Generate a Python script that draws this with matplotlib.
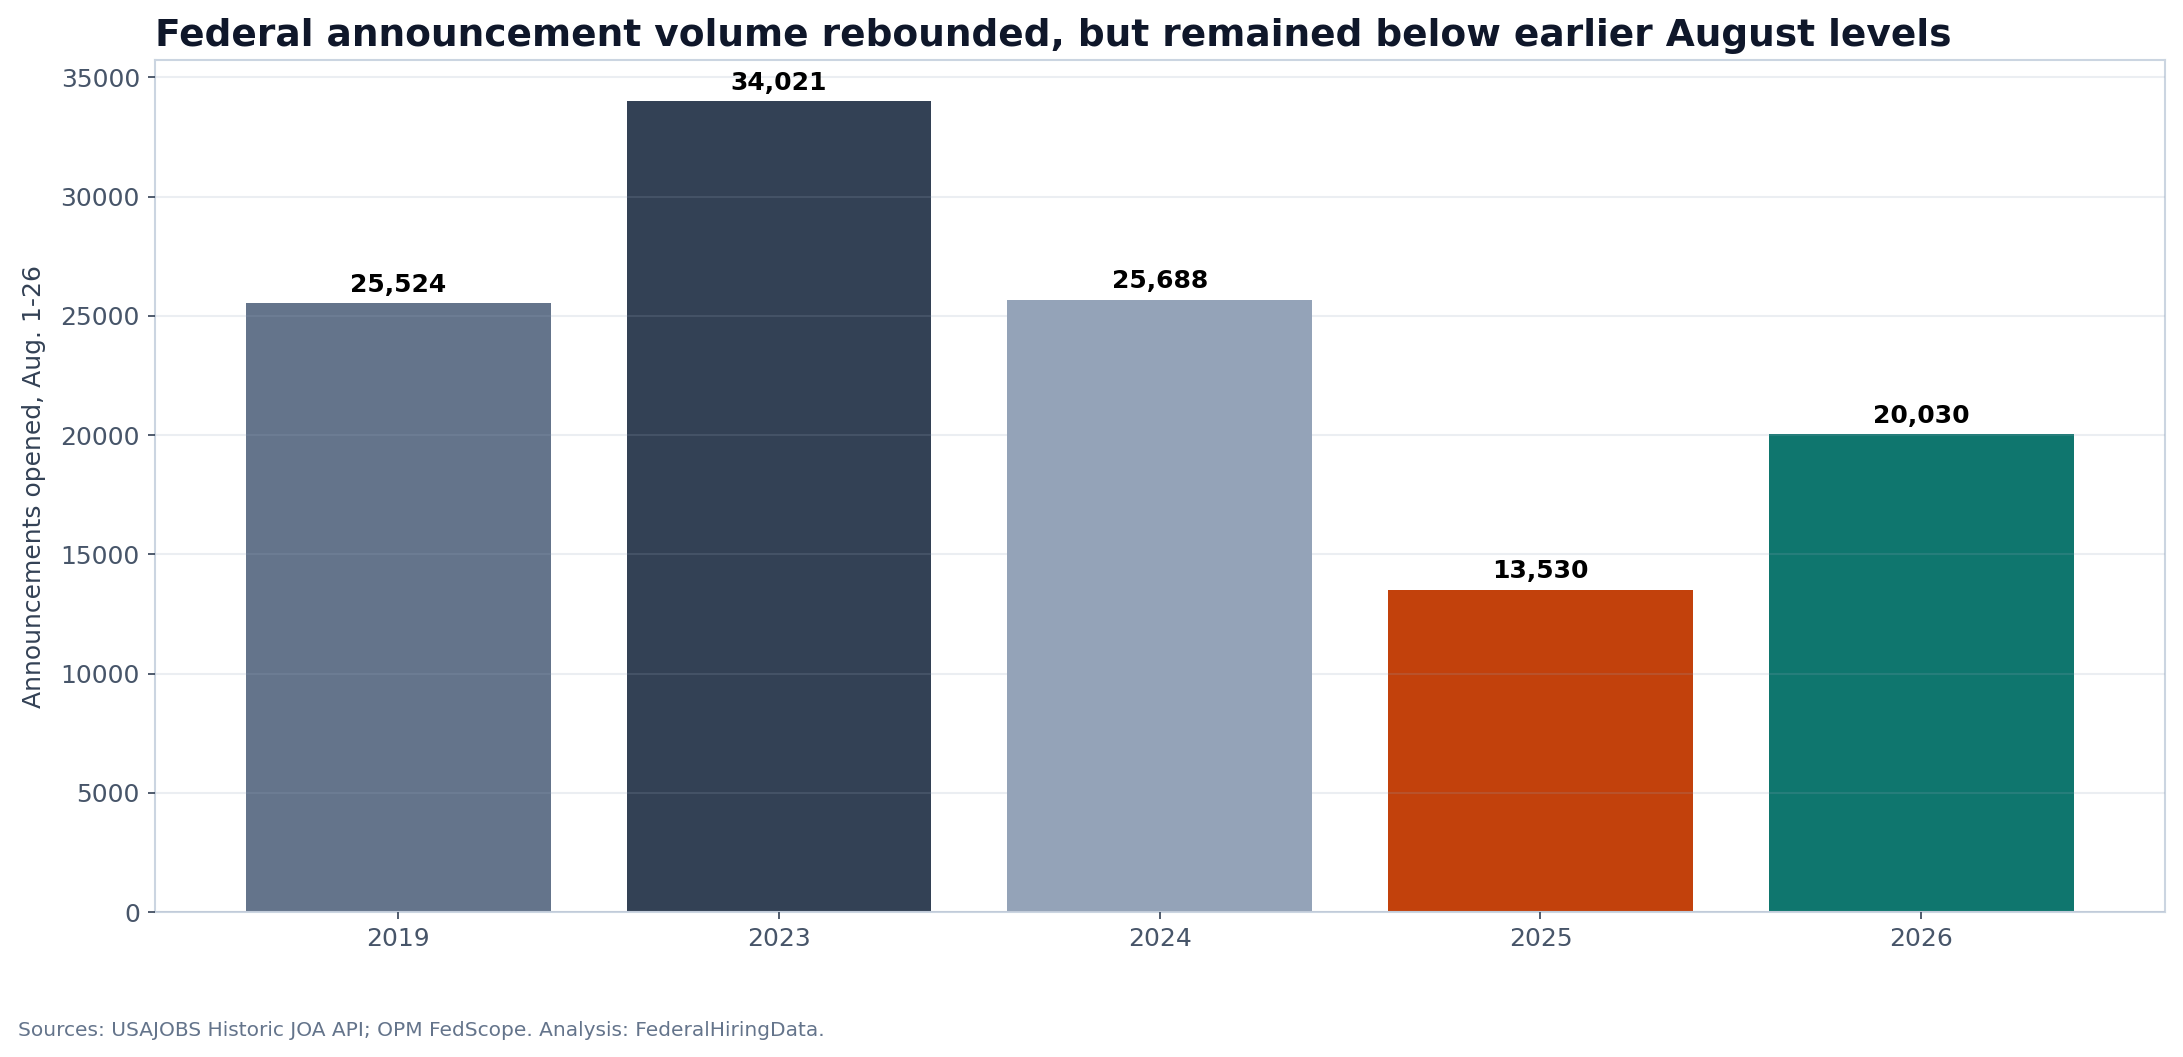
import matplotlib
matplotlib.use("Agg")
import matplotlib.pyplot as plt

years = ["2019", "2023", "2024", "2025", "2026"]
announcements = [25524, 34021, 25688, 13530, 20030]
bar_colors = ["#64748b", "#334155", "#94a3b8", "#c2410c", "#0f766e"]

TITLE = "Federal announcement volume rebounded, but remained below earlier August levels"
YLABEL = "Announcements opened, Aug. 1-26"
SOURCE = "Sources: USAJOBS Historic JOA API; OPM FedScope. Analysis: FederalHiringData."

plt.rcParams["font.family"] = "DejaVu Sans"

fig = plt.figure(figsize=(2183 / 150, 1057 / 150), dpi=150)
ax = fig.add_axes([0.0708, 0.137, 0.9209, 0.806])

x = range(len(years))
bars = ax.bar(x, announcements, width=0.8, color=bar_colors, zorder=1)
ax.set_xticks(list(x))
ax.set_xticklabels(years)

for rect, val in zip(bars, announcements):
    ax.annotate(
        f"{val:,}",
        (rect.get_x() + rect.get_width() / 2, rect.get_height()),
        xytext=(0, 3),
        textcoords="offset points",
        ha="center",
        va="bottom",
        fontsize=12,
        fontweight="bold",
        color="black",
    )

ax.set_title(TITLE, loc="left", fontsize=18, fontweight="bold", color="#0f172a", pad=7)
ax.set_ylabel(YLABEL, fontsize=12, color="#334155", labelpad=7)

# faint grid drawn over the bars
ax.grid(True, axis="y", color="#94a3b8", linewidth=1.0, alpha=0.18)
ax.set_axisbelow(False)
for sp in ax.spines.values():
    sp.set_color("#cbd5e1")
    sp.set_linewidth(1.0)
ax.tick_params(axis="both", colors="#334155", labelcolor="#475569", labelsize=12)

fig.text(0.0083, 0.025, SOURCE, fontsize=9.7, color="#64748b", ha="left", va="center")

fig.savefig("out.png", dpi=150)
